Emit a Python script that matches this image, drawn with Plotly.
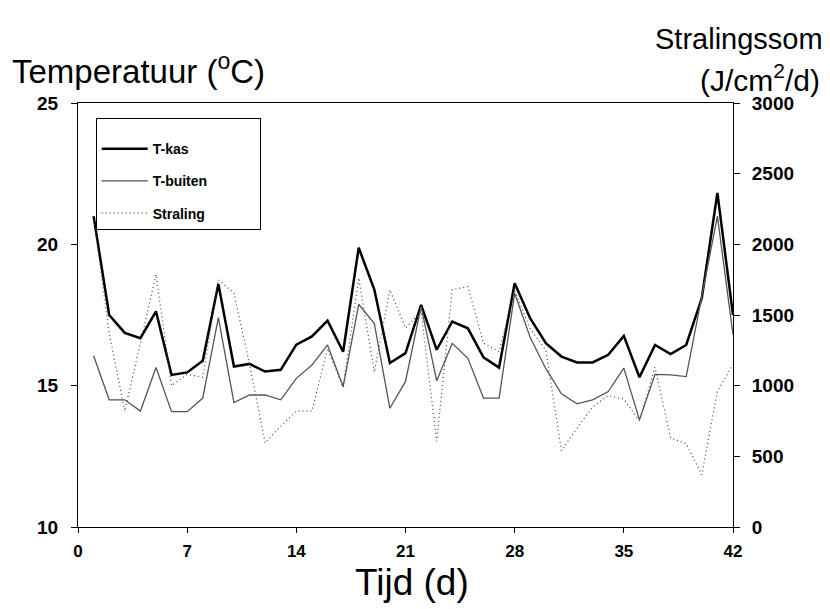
import plotly.graph_objects as go

days = list(range(1, 43))
t_kas = [21.0, 17.5, 16.87, 16.68, 17.63, 15.38, 15.47, 15.88, 18.6, 15.68,
         15.77, 15.5, 15.56, 16.45, 16.74, 17.3, 16.2, 19.88, 18.4, 15.8,
         16.15, 17.86, 16.27, 17.27, 17.03, 16.0, 15.64, 18.62, 17.38, 16.5,
         16.03, 15.82, 15.82, 16.09, 16.76, 15.3, 16.44, 16.12, 16.44, 18.1,
         21.82, 17.5]
t_buiten = [16.06, 14.5, 14.5, 14.1, 15.64, 14.08, 14.08, 14.56, 17.41, 14.4,
            14.67, 14.67, 14.5, 15.26, 15.73, 16.44, 14.97, 17.88, 17.2, 14.2,
            15.15, 17.8, 15.17, 16.5, 15.97, 14.56, 14.56, 18.27, 16.7, 15.6,
            14.71, 14.36, 14.5, 14.79, 15.62, 13.79, 15.4, 15.38, 15.32, 18.15,
            21.0, 16.8]
straling = [2200, 1370, 820, 1300, 1786, 1000, 1080, 1060, 1750, 1655,
            1150, 595, 714, 820, 820, 1262, 988, 1762, 1095, 1679,
            1407, 1524, 607, 1680, 1700, 1300, 1240, 1670, 1400, 1250,
            540, 700, 850, 930, 905, 750, 1130, 630, 590, 370,
            960, 1150]

x_ticks = [0, 7, 14, 21, 28, 35, 42]
y_ticks = [10, 15, 20, 25]
y2_ticks = [0, 500, 1000, 1500, 2000, 2500, 3000]

FONT = "Liberation Sans, Arial, sans-serif"

fig = go.Figure()
fig.add_trace(go.Scatter(x=days, y=t_kas, mode="lines", name="T-kas",
                         legendgroup="a",
                         line=dict(color="#000000", width=2.5)))
fig.add_trace(go.Scatter(x=days, y=t_buiten, mode="lines", name="T-buiten",
                         legendgroup="b",
                         line=dict(color="#555555", width=1.3)))
fig.add_trace(go.Scatter(x=days, y=straling, mode="lines", name="Straling",
                         legendgroup="c", yaxis="y2",
                         line=dict(color="#444444", width=1.2, dash="1px,3px")))

fig.update_layout(
    width=830, height=609,
    margin=dict(l=78, r=97, t=103, b=82),
    paper_bgcolor="white", plot_bgcolor="white",
    font=dict(family=FONT, color="black"),
    showlegend=True,
    legend=dict(x=0.027, y=0.965, xanchor="left", yanchor="top",
                bgcolor="white", bordercolor="black", borderwidth=1,
                font=dict(family=FONT, size=14, color="black", weight="bold"),
                title=dict(text="&nbsp;" * 52, font=dict(size=11)),
                traceorder="grouped", tracegroupgap=11, itemwidth=46),
    xaxis=dict(range=[0, 42], tickvals=x_ticks, showgrid=False, zeroline=False,
               showline=True, linecolor="black", linewidth=1, mirror=True,
               ticks="outside", ticklen=5, tickcolor="black",
               ticklabelstandoff=4,
               tickfont=dict(family=FONT, size=17, color="black", weight="bold")),
    yaxis=dict(range=[10, 25], tickvals=y_ticks, showgrid=False, zeroline=False,
               showline=True, linecolor="black", linewidth=1,
               ticks="outside", ticklen=6, tickcolor="black",
               ticklabelstandoff=9,
               tickfont=dict(family=FONT, size=19, color="black", weight="bold")),
    yaxis2=dict(range=[0, 3000], tickvals=y2_ticks, overlaying="y", side="right",
                showgrid=False, zeroline=False,
                showline=True, linecolor="black", linewidth=1,
                ticks="outside", ticklen=6, tickcolor="black",
                ticklabelstandoff=8,
                tickfont=dict(family=FONT, size=19, color="black", weight="bold")),
    annotations=[
        dict(text="Temperatuur (<sup>o</sup>C)", xref="paper", yref="paper",
             x=-0.104, y=1.080, xanchor="left", yanchor="middle", showarrow=False,
             font=dict(family=FONT, size=33, color="black")),
        dict(text="Stralingssom", xref="paper", yref="paper",
             x=1.140, y=1.150, xanchor="right", yanchor="middle", showarrow=False,
             font=dict(family=FONT, size=29, color="black")),
        dict(text="(J/cm<sup>2</sup>/d)", xref="paper", yref="paper",
             x=1.136, y=1.058, xanchor="right", yanchor="middle", showarrow=False,
             font=dict(family=FONT, size=30, color="black")),
        dict(text="Tijd (d)", xref="paper", yref="paper",
             x=0.51, y=-0.132, xanchor="center", yanchor="middle", showarrow=False,
             font=dict(family=FONT, size=37, color="black")),
    ],
)

fig.write_html("out.html")
